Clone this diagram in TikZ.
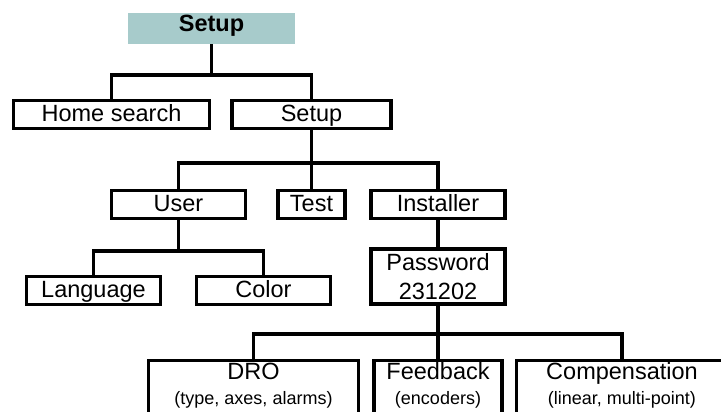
\documentclass[tikz,border=0pt]{standalone}
\usepackage{fontspec}
\setmainfont{Liberation Sans}
\definecolor{hdrfill}{RGB}{167,203,203}
\tikzset{
  big/.style={font=\fontsize{23.5}{29}\selectfont},
  small/.style={font=\fontsize{18}{22}\selectfont},
  box/.style={draw, line width=3.2pt, inner sep=0pt, minimum height=28pt,
    text height=17pt, text depth=3pt, big},
  hdrbox/.style={fill=hdrfill, inner sep=0pt, minimum width=167pt, minimum height=31pt,
    text height=17pt, text depth=10pt, font=\fontsize{23.5}{28}\selectfont\bfseries},
  conn/.style={line width=3.2pt},
  lowbox/.style={draw, line width=3.2pt, inner sep=0pt, minimum height=80pt},
}
\begin{document}
\begin{tikzpicture}[x=1pt,y=-1pt]
\useasboundingbox (0,0) rectangle (721,412);
\clip (0,0) rectangle (721,412);
% header
\node[hdrbox] (hdr) at (211.5,28.5) {Setup};
% level 1
\node[box, minimum width=196pt] (home) at (111.5,114.5) {Home search};
\node[box, minimum width=159pt] (setup) at (311.5,114.5) {Setup};
% level 2
\node[box, minimum width=134pt] (user) at (178.5,204.5) {User};
\node[box, minimum width=67pt] (test) at (311.5,204.5) {Test};
\node[box, minimum width=134pt] (inst) at (438,204.5) {Installer};
% level 3
\node[box, minimum width=134pt] (lang) at (93.5,290.5) {Language};
\node[box, minimum width=134pt] (color) at (263.5,290.5) {Color};
\node[draw, line width=3.2pt, inner sep=0pt, minimum width=134pt, minimum height=55pt,
  align=center, big] (pass) at (438,276.5) {Password\\231202};
% level 4
\node[lowbox, minimum width=210pt] (dro) at (253.5,400.5) {};
\node[lowbox, minimum width=128pt] (feed) at (438,400.5) {};
\node[lowbox, minimum width=211pt] (comp) at (622,400.5) {};
\node[big, anchor=base] (drot) at (253.5,379.5) {DRO};
\node[small, anchor=base] (dros) at (253.5,404) {(type, axes, alarms)};
\node[big, anchor=base] (feedt) at (438,379.5) {Feedback};
\node[small, anchor=base] (feeds) at (438,404) {(encoders)};
\node[big, anchor=base] (compt) at (622,379.5) {Compensation};
\node[small, anchor=base] (comps) at (622,404) {(linear, multi-point)};
% junctions
\coordinate (j1) at (211.5,75);
\coordinate (j2) at (311.5,163);
\coordinate (j3) at (178.5,251);
\coordinate (j4) at (438,334);
% connectors
\draw[conn] (hdr.south) -- (j1);
\draw[conn] (home.north) |- (j1) -| (setup.north);
\draw[conn] (setup.south) -- (test.north);
\draw[conn] (user.north) |- (j2) -| (inst.north);
\draw[conn] (user.south) -- (j3);
\draw[conn] (lang.north) |- (j3) -| (color.north);
\draw[conn] (inst.south) -- (pass.north);
\draw[conn] (pass.south) -- (feed.north);
\draw[conn] (dro.north) |- (j4) -| (comp.north);
\end{tikzpicture}
\end{document}
